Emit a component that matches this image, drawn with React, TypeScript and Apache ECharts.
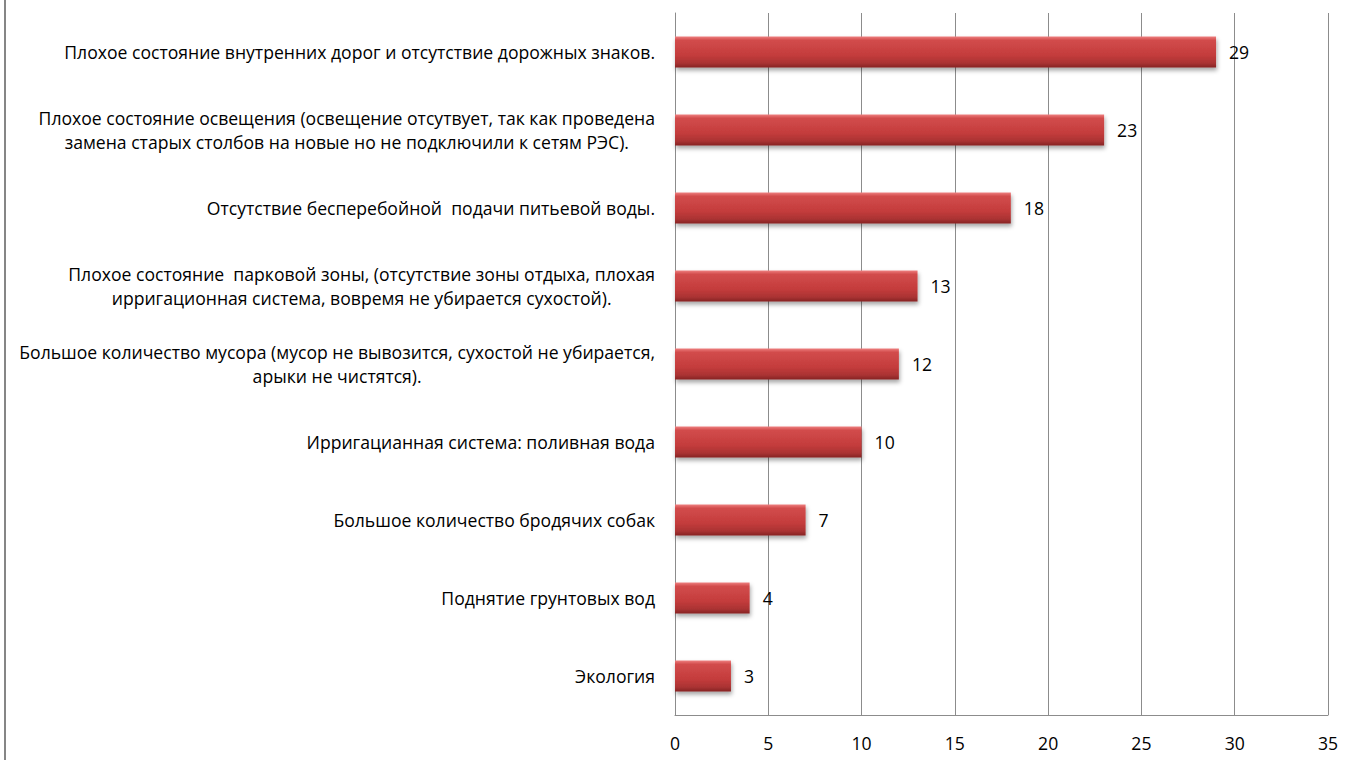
import React, { useEffect, useRef } from "react";
import * as echarts from "echarts";

const categories: string[] = [
  "Плохое состояние внутренних дорог и отсутствие дорожных знаков.",
  "Плохое состояние освещения (освещение отсутвует, так как проведена\nзамена старых столбов на новые но не подключили к сетям РЭС).",
  "Отсутствие бесперебойной  подачи питьевой воды.",
  "Плохое состояние  парковой зоны, (отсутствие зоны отдыха, плохая\nирригационная система, вовремя не убирается сухостой).",
  "Большое количество мусора (мусор не вывозится, сухостой не убирается,\nарыки не чистятся).",
  "Ирригацианная система: поливная вода",
  "Большое количество бродячих собак",
  "Поднятие грунтовых вод",
  "Экология",
];

const values: number[] = [29, 23, 18, 13, 12, 10, 7, 4, 3];

const xTicks = { min: 0, max: 35, interval: 5 };

const FONT = "'Open Sans', 'Noto Sans', sans-serif";
const FS = 17.6;

export default function App() {
  const ref = useRef<HTMLDivElement>(null);

  useEffect(() => {
    if (!ref.current) return;
    const chart = echarts.init(ref.current, undefined, { renderer: "svg" });
    chart.setOption({
      animation: false,
      backgroundColor: "#ffffff",
      textStyle: { fontFamily: FONT },
      graphic: [
        {
          type: "rect",
          shape: { x: 4, y: 0, width: 2, height: 760 },
          style: { fill: "#868686" },
          silent: true,
        },
      ],
      grid: { left: 675, right: 21, top: 13, bottom: 45, containLabel: false },
      xAxis: {
        type: "value",
        min: xTicks.min,
        max: xTicks.max,
        interval: xTicks.interval,
        axisLine: { show: true, lineStyle: { color: "#8c8c8c", width: 1 } },
        axisTick: { show: false },
        splitLine: { show: true, lineStyle: { color: "#8c8c8c", width: 1 } },
        axisLabel: { fontSize: FS, color: "#000", margin: 19, fontFamily: FONT },
      },
      yAxis: {
        type: "category",
        inverse: true,
        data: categories,
        axisLine: { show: true, lineStyle: { color: "#8c8c8c", width: 1 } },
        axisTick: { show: false },
        axisLabel: {
          margin: 20,
          fontSize: FS,
          color: "#000",
          lineHeight: 24,
          fontFamily: FONT,
          formatter: (v: string) =>
            v
              .split("\n")
              .map((l) => `{c|${l}}`)
              .join("\n"),
          rich: {
            c: { align: "center", fontSize: FS, color: "#000", lineHeight: 24, fontFamily: FONT },
          },
        },
      },
      series: [
        {
          type: "bar",
          data: values,
          barWidth: 31,
          itemStyle: {
            color: new echarts.graphic.LinearGradient(0, 0, 0, 1, [
              { offset: 0, color: "#ee8080" },
              { offset: 0.12, color: "#d24c4c" },
              { offset: 0.6, color: "#c43c3c" },
              { offset: 0.85, color: "#ab3333" },
              { offset: 1, color: "#862424" },
            ]),
            shadowColor: "rgba(0,0,0,0.35)",
            shadowBlur: 4,
            shadowOffsetY: 3,
            shadowOffsetX: 1,
          },
          label: {
            show: true,
            position: "right",
            distance: 13,
            fontSize: FS,
            color: "#000",
            fontFamily: FONT,
          },
        },
      ],
    });
    return () => chart.dispose();
  }, []);

  return (
    <div
      ref={ref}
      style={{ position: "fixed", left: 0, top: 0, width: 1349, height: 760 }}
    />
  );
}
